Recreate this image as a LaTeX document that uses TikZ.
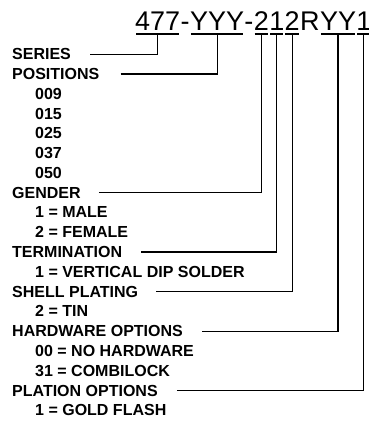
\documentclass[tikz,border=0pt]{standalone}
\usepackage{fontspec}
\setmainfont{Liberation Sans}
\usetikzlibrary{positioning, calc}

\tikzset{
  pnlabel/.style={anchor=base west, inner sep=0pt, font=\bfseries\fontsize{16}{16}\selectfont},
  pnpart/.style={anchor=base west, inner sep=0pt, font=\fontsize{27}{27}\selectfont},
  pnbar/.style={line width=2pt},
  pnwire/.style={line width=1.1pt},
}

\begin{document}
\begin{tikzpicture}[x=1pt, y=-1pt, line join=miter]
    \useasboundingbox (0,0) rectangle (368,428);

    % part number
    \node[pnpart] (p477) at (135,30.5) {477};
    \node[pnpart] (dash1) at (p477.base east) {-};
    \node[pnpart] (pyyy) at (dash1.base east) {YYY};
    \node[pnpart] (dash2) at (pyyy.base east) {-};
    \node[pnpart] (p2a) at (dash2.base east) {2};
    \node[pnpart] (p1a) at (p2a.base east) {1};
    \node[pnpart] (p2b) at (p1a.base east) {2};
    \node[pnpart] (pr) at (p2b.base east) {R};
    \node[pnpart] (pyy) at (pr.base east) {YY};
    \node[pnpart] (p1b) at (pyy.base east) {1};

    % underlines
    \draw[pnbar] ($(p477.base west)+(1,3.5)$) -- ($(p477.base east)+(-1,3.5)$);
    \draw[pnbar] ($(pyyy.base west)+(1,3.5)$) -- ($(pyyy.base east)+(-1,3.5)$);
    \draw[pnbar] ($(p2a.base west)+(1,3.5)$) -- ($(p2a.base east)+(-1,3.5)$);
    \draw[pnbar] ($(p1a.base west)+(1,3.5)$) -- ($(p1a.base east)+(-1,3.5)$);
    \draw[pnbar] ($(p2b.base west)+(1,3.5)$) -- ($(p2b.base east)+(-1,3.5)$);
    \draw[pnbar] ($(pyy.base west)+(1,3.5)$) -- ($(pyy.base east)+(-1,3.5)$);
    \draw[pnbar] ($(p1b.base west)+(1,3.5)$) -- ($(p1b.base east)+(-1,3.5)$);

    % fields
    \node[pnlabel] (series) at (12,59.7) {SERIES};
    \node[pnlabel] (positions) at (12,79.5) {POSITIONS};
    \node[pnlabel] (pos009) at (35,99.3) {009};
    \node[pnlabel] (pos015) at (35,119.0) {015};
    \node[pnlabel] (pos025) at (35,138.8) {025};
    \node[pnlabel] (pos037) at (35,158.6) {037};
    \node[pnlabel] (pos050) at (35,178.4) {050};
    \node[pnlabel] (gender) at (12,198.2) {GENDER};
    \node[pnlabel] (male) at (35,217.9) {1 = MALE};
    \node[pnlabel] (female) at (35,237.7) {2 = FEMALE};
    \node[pnlabel] (termination) at (12,257.5) {TERMINATION};
    \node[pnlabel] (dip) at (35,277.3) {1 = VERTICAL DIP SOLDER};
    \node[pnlabel] (shell) at (12,297.1) {SHELL PLATING};
    \node[pnlabel] (tin) at (35,316.8) {2 = TIN};
    \node[pnlabel] (hardware) at (12,336.6) {HARDWARE OPTIONS};
    \node[pnlabel] (nohw) at (35,356.4) {00 = NO HARDWARE};
    \node[pnlabel] (combi) at (35,376.2) {31 = COMBILOCK};
    \node[pnlabel] (plation) at (12,396.0) {PLATION OPTIONS};
    \node[pnlabel] (gold) at (35,415.7) {1 = GOLD FLASH};

    % leaders
    \draw[pnwire] ([xshift=19]series.east) -| ($(p477.base)+(0,3.5)$);
    \draw[pnwire] ([xshift=21]positions.east) -| ($(pyyy.base)+(0,3.5)$);
    \draw[pnwire] ([xshift=18]gender.east) -| ($(p2a.base)+(0,3.5)$);
    \draw[pnwire] ([xshift=19]termination.east) -| ($(p1a.base)+(0,3.5)$);
    \draw[pnwire] ([xshift=18]shell.east) -| ($(p2b.base)+(0,3.5)$);
    \draw[pnwire] ([xshift=19]hardware.east) -| ($(pyy.base)+(0,3.5)$);
    \draw[pnwire] ([xshift=19]plation.east) -| ($(p1b.base)+(0,3.5)$);
\end{tikzpicture}
\end{document}
